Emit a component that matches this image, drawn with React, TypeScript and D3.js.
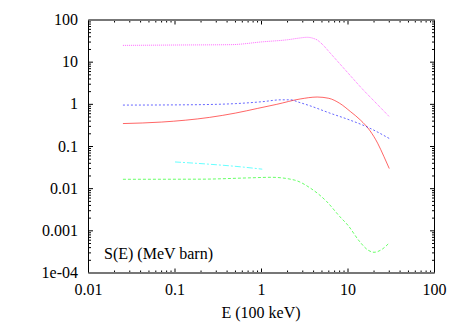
import React from "react";
import * as d3 from "d3";

const W = 463;
const H = 324;

const redE = [0.025, 0.07, 0.25, 0.5, 0.9, 1.5, 2.8, 4.4, 6, 8, 10.7, 14, 18, 22, 26, 30];
const redS = [0.35, 0.38, 0.49, 0.62, 0.8, 1.0, 1.34, 1.49, 1.39, 1.06, 0.67, 0.42, 0.235, 0.12, 0.058, 0.03];

const greenE = [0.025, 0.2, 0.7, 1.3, 2.4, 3.7, 5.7, 8, 10, 13.7, 17, 20, 25, 30];
const greenS = [0.0167, 0.0168, 0.018, 0.0186, 0.016, 0.0102, 0.0049, 0.0022, 0.00135, 0.00055, 0.00035, 0.00031, 0.00037, 0.00052];

const blueE = [0.025, 0.1, 0.3, 0.5, 1, 1.7, 2.2, 2.6, 3.6, 6.3, 10, 18, 30];
const blueS = [0.96, 0.97, 1.0, 1.04, 1.15, 1.28, 1.28, 1.15, 0.93, 0.61, 0.44, 0.27, 0.155];

const magentaE = [0.025, 0.1, 0.44, 1.05, 2, 2.8, 3.37, 4.0, 4.4, 5, 6.3, 9.8, 15, 20, 30];
const magentaS = [25, 25.5, 26, 30.5, 34, 37.5, 38.9, 36.5, 33.6, 27, 16, 5.8, 2.2, 1.2, 0.51];

const cyanE = [0.1, 0.25, 0.57, 1.02];
const cyanS = [0.043, 0.038, 0.033, 0.029];

const xTicks = [0.01, 0.1, 1, 10, 100];
const xTickLabels = ["0.01", "0.1", "1", "10", "100"];
const yTicks = [100, 10, 1, 0.1, 0.01, 0.001, 0.0001];
const yTickLabels = ["100", "10", "1", "0.1", "0.01", "0.001", "1e-04"];

const legendText = "S(E) (MeV barn)";
const xTitle = "E (100 keV)";

const L = 88.5;
const R = 434.5;
const T = 20;
const B = 273;

export default function App() {
  const x = d3.scaleLog().domain([0.01, 100]).range([L, R]);
  const y = d3.scaleLog().domain([0.0001, 100]).range([B, T]);

  const line = d3
    .line<[number, number]>()
    .x((d) => x(d[0]))
    .y((d) => y(d[1]))
    .curve(d3.curveMonotoneX);

  const zip = (a: number[], b: number[]) => a.map((v, i) => [v, b[i]] as [number, number]);

  const series = [
    { data: zip(redE, redS), color: "#ff0000", dash: "" },
    { data: zip(greenE, greenS), color: "#00ff00", dash: "3,2" },
    { data: zip(blueE, blueS), color: "#0000ff", dash: "2,2" },
    { data: zip(magentaE, magentaS), color: "#ff00ff", dash: "1,1" },
    { data: zip(cyanE, cyanS), color: "#00ffff", dash: "6,2,2,2" },
  ];

  const minorX: number[] = [];
  for (let p = -2; p < 2; p++) for (let m = 2; m <= 9; m++) minorX.push(m * Math.pow(10, p));
  const minorY: number[] = [];
  for (let p = -4; p < 2; p++) for (let m = 2; m <= 9; m++) minorY.push(m * Math.pow(10, p));

  const font = "'Liberation Serif', 'Times New Roman', serif";
  const fs = 16;
  const maj = 4.5;
  const mnr = 2.5;

  return (
    <div style={{ position: "absolute", left: 0, top: 0 }}>
      <svg width={W} height={H} style={{ display: "block", background: "#fff" }}>
        <g stroke="#000" strokeWidth={1}>
          {xTicks.map((t) => (
            <g key={"xm" + t}>
              <line x1={x(t)} x2={x(t)} y1={B} y2={B - maj} />
              <line x1={x(t)} x2={x(t)} y1={T} y2={T + maj} />
            </g>
          ))}
          {minorX.map((t) => (
            <g key={"xn" + t}>
              <line x1={x(t)} x2={x(t)} y1={B} y2={B - mnr} />
              <line x1={x(t)} x2={x(t)} y1={T} y2={T + mnr} />
            </g>
          ))}
          {yTicks.map((t) => (
            <g key={"ym" + t}>
              <line x1={L} x2={L + maj} y1={y(t)} y2={y(t)} />
              <line x1={R} x2={R - maj} y1={y(t)} y2={y(t)} />
            </g>
          ))}
          {minorY.map((t) => (
            <g key={"yn" + t}>
              <line x1={L} x2={L + mnr} y1={y(t)} y2={y(t)} />
              <line x1={R} x2={R - mnr} y1={y(t)} y2={y(t)} />
            </g>
          ))}
        </g>
        <line x1={L} x2={L} y1={T} y2={B} stroke="#000" strokeWidth={1} />
        <line x1={R} x2={R} y1={T} y2={B} stroke="#000" strokeWidth={1} />
        <line x1={L} x2={R} y1={T} y2={T} stroke="#777" strokeWidth={2} />
        <line x1={L} x2={R} y1={B} y2={B} stroke="#777" strokeWidth={2} />
        {series.map((s, i) => (
          <path
            key={i}
            d={line(s.data) || ""}
            fill="none"
            stroke={s.color}
            strokeWidth={1}
            strokeOpacity={0.6}
            strokeDasharray={s.dash || undefined}
          />
        ))}
        <g fontFamily={font} fontSize={fs} fill="#000">
          {xTicks.map((t, i) => (
            <text key={"xl" + t} x={x(t)} y={295} textAnchor="middle">
              {xTickLabels[i]}
            </text>
          ))}
          {yTicks.map((t, i) => (
            <text key={"yl" + t} x={78} y={y(t) + 5} textAnchor="end">
              {yTickLabels[i]}
            </text>
          ))}
          <text x={(L + R) / 2 - 0.5} y={318} textAnchor="middle">
            {xTitle}
          </text>
          <text x={104} y={259}>
            {legendText}
          </text>
        </g>
      </svg>
    </div>
  );
}
